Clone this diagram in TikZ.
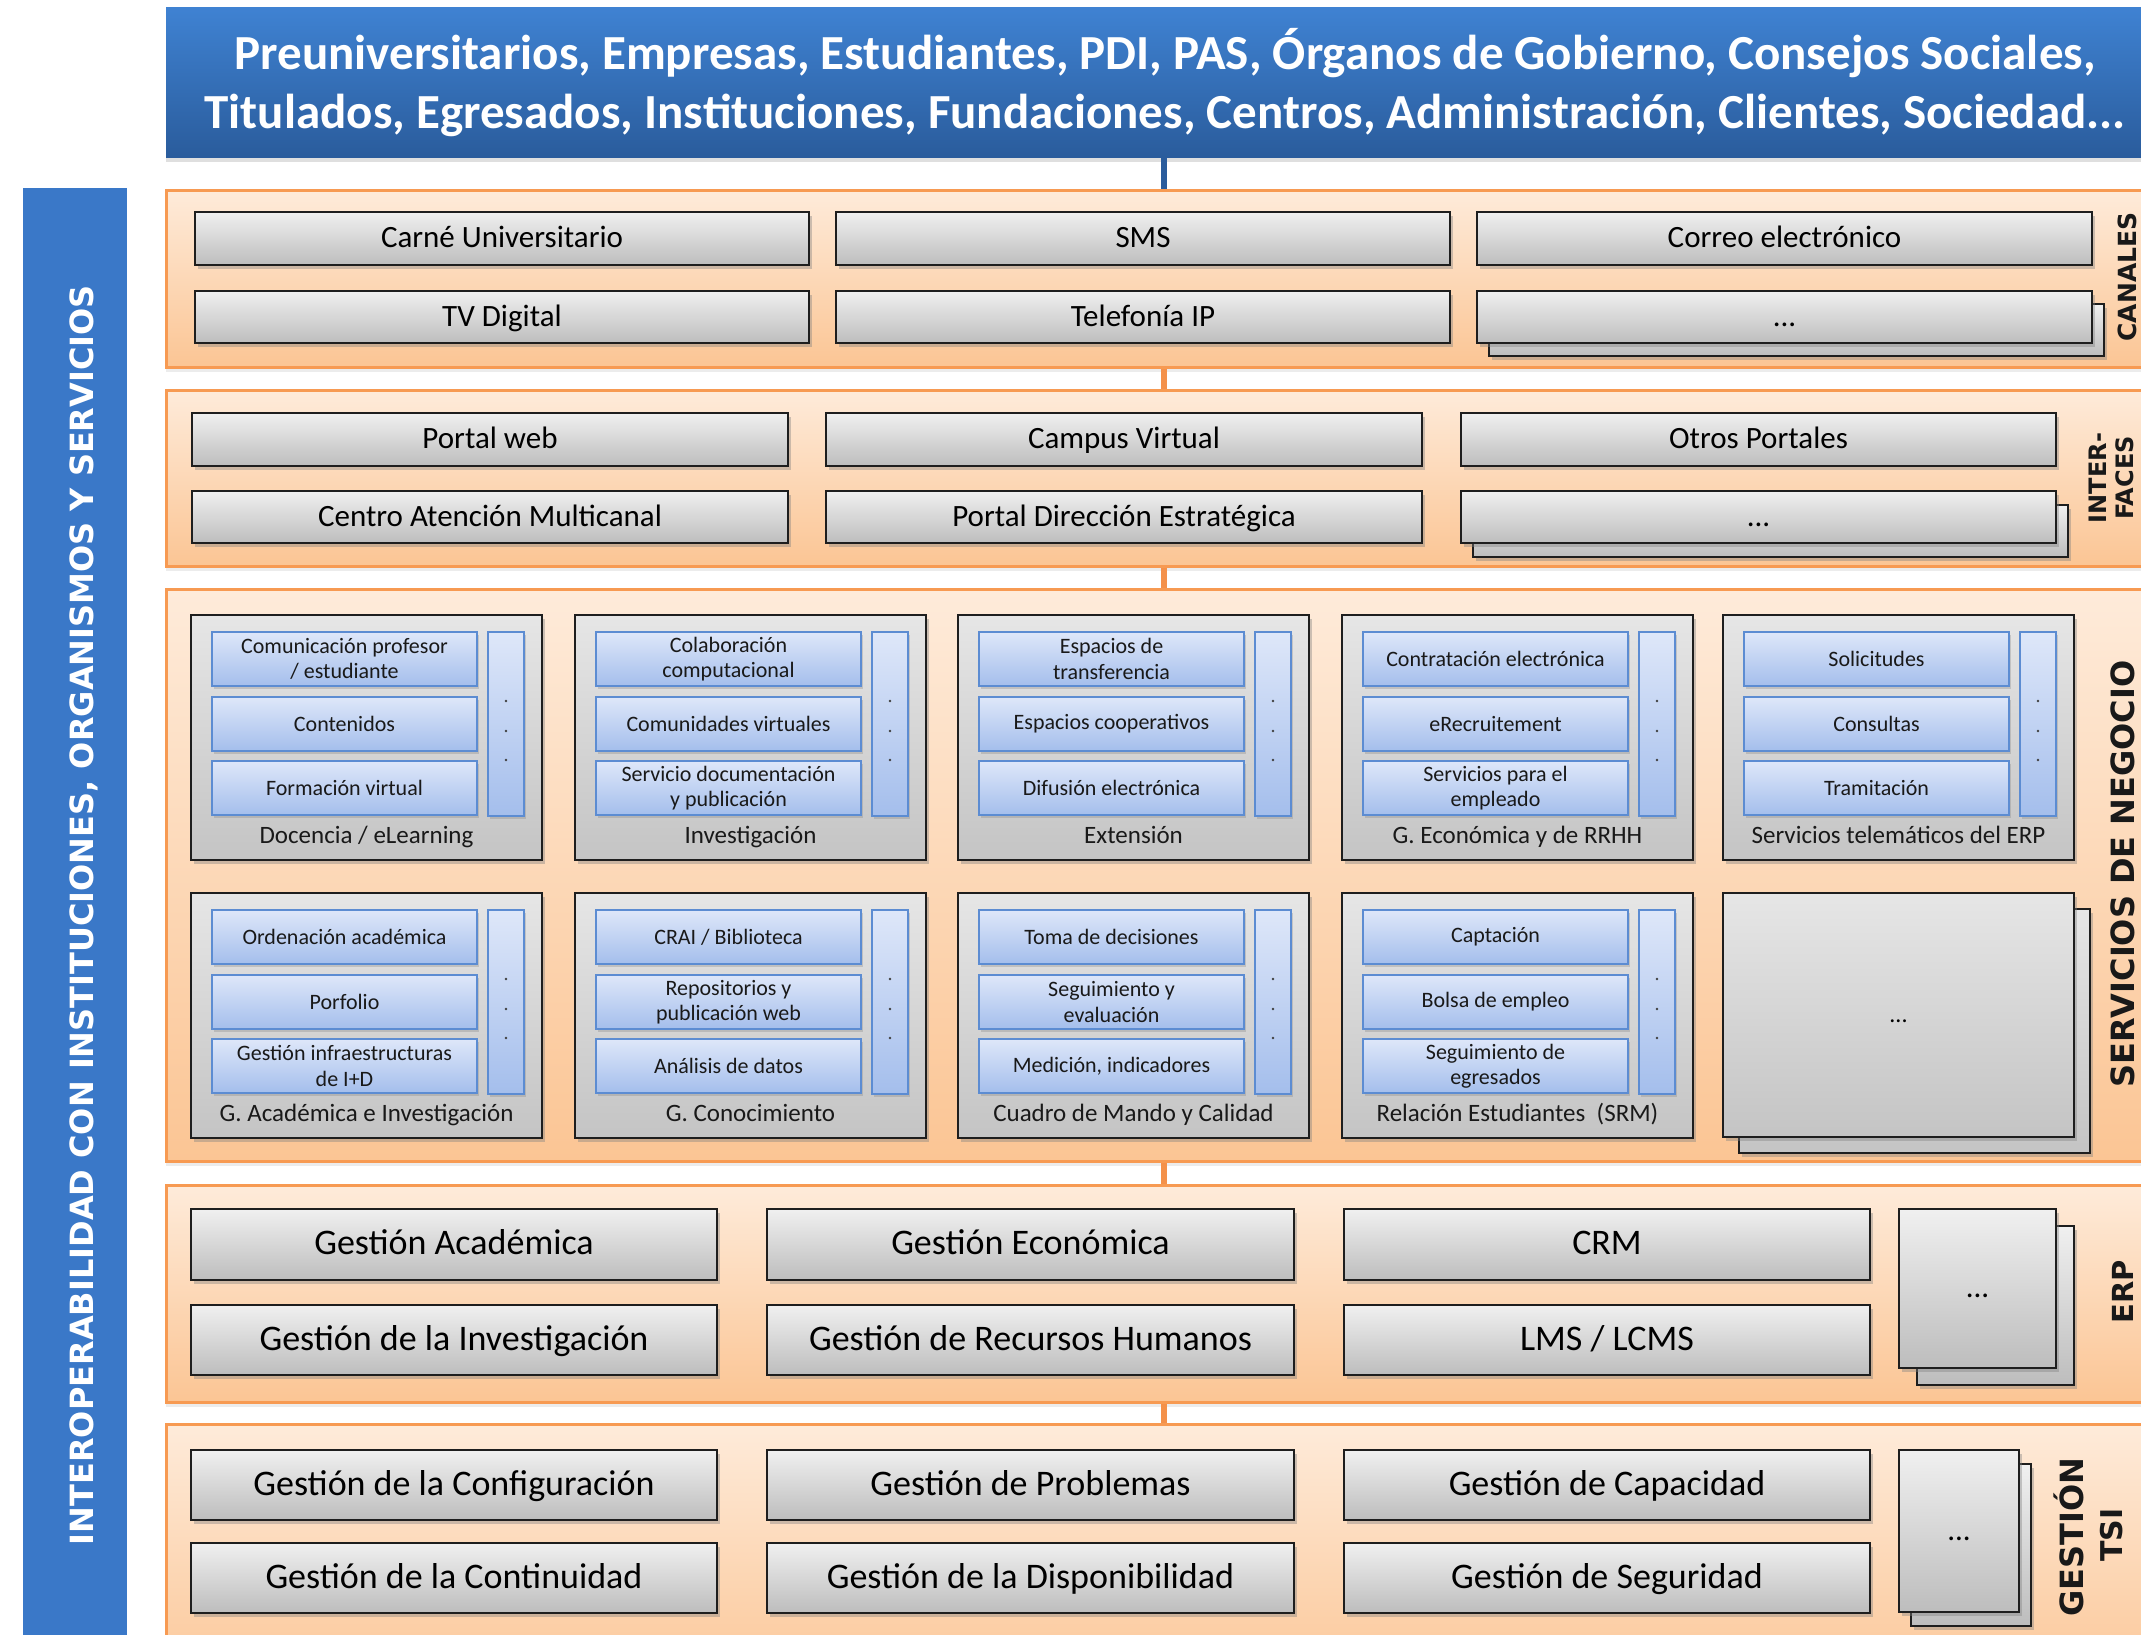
\documentclass[tikz,border=0pt]{standalone}
\usepackage{fontspec}
\setmainfont{Carlito}
\newfontfamily\labfont{DejaVu Sans}
\usetikzlibrary{shadows}
\newcommand\fsz[2]{\fontsize{#1}{#2}\selectfont}
\definecolor{bantop}{HTML}{3F82D2}
\definecolor{banbot}{HTML}{2A5C9C}
\definecolor{barblue}{HTML}{3A78C8}
\definecolor{panelbd}{HTML}{F79A52}
\definecolor{paneltop}{HTML}{FEEBDA}
\definecolor{panelbot}{HTML}{FBC594}
\definecolor{conor}{HTML}{F4914A}
\definecolor{boxbd}{HTML}{1E1E1E}
\definecolor{gtop}{HTML}{F0F0F0}
\definecolor{gbot}{HTML}{BDBDBD}
\definecolor{grtop}{HTML}{E6E6E6}
\definecolor{grbot}{HTML}{C4C4C4}
\definecolor{bltop}{HTML}{DEE7F9}
\definecolor{blbot}{HTML}{A4BEEC}
\definecolor{bluebd}{HTML}{5C8CD2}
% box by corners: style, x1, y1, x2, y2, name, text
\newcommand\bx[7]{\node[#1, minimum width={(#4)-(#2)}, minimum height={(#5)-(#3)}] (#6) at ({((#2)+(#4))/2},{((#3)+(#5))/2}) {#7};}
% service group: name, x, y, label, item1, item2, item3
\newcommand\grp[7]{%
  \bx{grpbox}{#2}{#3}{#2+351}{#3+245}{#1}{}
  \bx{bluebox}{#2+21}{#3+17}{#2+286}{#3+71}{#1a}{#5}
  \bx{bluebox}{#2+21}{#3+82}{#2+286}{#3+136}{#1b}{#6}
  \bx{bluebox}{#2+21}{#3+146}{#2+286}{#3+200}{#1c}{#7}
  \bx{bluebox}{#2+297}{#3+17}{#2+333}{#3+201}{#1d}{}
  \foreach \dy in {86,116,145} {\fill[black!75] (#2+315,#3+\dy) circle (1.4);}
  \node[grplabel] (#1l) at (#2+175.5,#3+221) {#4};
}
\begin{document}
\begin{tikzpicture}[x=1pt,y=-1pt,
  panel/.style={draw=panelbd, line width=3pt, top color=paneltop, bottom color=panelbot,
    drop shadow={shadow xshift=0pt, shadow yshift=-5pt, opacity=.15}},
  banner/.style={top color=bantop, bottom color=banbot, draw=none, text=white,
    font=\bfseries\fsz{49}{59}, align=center,
    drop shadow={shadow xshift=0pt, shadow yshift=-5pt, opacity=.25}},
  leftbar/.style={fill=barblue, draw=none},
  bartext/.style={text=white, font=\labfont\bfseries\fsz{32}{38}, rotate=90, inner sep=0pt,
    text height=23.3pt, text depth=0pt},
  sidelab/.style={text=black!90, rotate=90, inner sep=0pt, text depth=0pt},
  gbox/.style={draw=boxbd, line width=2.5pt, top color=gtop, bottom color=gbot, text=black,
    drop shadow={shadow xshift=3pt, shadow yshift=-4pt, opacity=.4}},
  chan/.style={gbox, font=\fsz{31}{36}, text height=20.5pt, text depth=2.5pt},
  erpb/.style={gbox, font=\fsz{36}{42}, text height=23.8pt, text depth=2.9pt},
  grpbox/.style={draw=boxbd, line width=2.5pt, top color=grtop, bottom color=grbot,
    drop shadow={shadow xshift=3pt, shadow yshift=-4pt, opacity=.4}, font=\fsz{24}{28},
    text height=16pt, text depth=2pt},
  bluebox/.style={draw=bluebd, line width=2pt, top color=bltop, bottom color=blbot,
    font=\fsz{22}{25.5}, align=center, text=black!90, inner sep=1pt,
    drop shadow={shadow xshift=2pt, shadow yshift=-3pt, opacity=.3}},
  grplabel/.style={font=\fsz{25}{29}, text=black!90, inner sep=0pt,
    text height=16.5pt, text depth=2pt},
  oconn/.style={draw=conor, line width=6pt},
  bconn/.style={draw=banbot, line width=6pt}
]
\useasboundingbox (0,0) rectangle (2141,1635);
\clip (0,0) rectangle (2141,1635);
\fill[white] (0,0) rectangle (2141,1635);

% left bar
\bx{leftbar}{23}{188}{127}{1700}{lbar}{}
\node[bartext] (lbtext) at (82,915) {INTEROPERABILIDAD CON INSTITUCIONES, ORGANISMOS Y SERVICIOS};

% panels
\bx{panel}{166}{190}{2250}{367}{pcan}{}
\bx{panel}{166}{390}{2250}{566}{pint}{}
\bx{panel}{166}{589}{2250}{1161}{pser}{}
\bx{panel}{166}{1185}{2250}{1402}{perp}{}
\bx{panel}{166}{1424}{2250}{1700}{ptsi}{}

% banner
\bx{banner}{166}{8}{2164}{157}{top}{Preuniversitarios, Empresas, Estudiantes, PDI, PAS, Órganos de Gobierno, Consejos Sociales,\\Titulados, Egresados, Instituciones, Fundaciones, Centros, Administración, Clientes, Sociedad...}

% connectors
\coordinate (cx) at (1164,0);
\draw[bconn] (top.south -| cx) -- (pcan.north -| cx);
\draw[oconn] (pcan.south -| cx) -- (pint.north -| cx);
\draw[oconn] (pint.south -| cx) -- (pser.north -| cx);
\draw[oconn] (pser.south -| cx) -- (perp.north -| cx);
\draw[oconn] (perp.south -| cx) -- (ptsi.north -| cx);

% side labels
\node[sidelab, font=\labfont\bfseries\fsz{25}{30}, text height=18.2pt] (lcan) at (2127,277) {CANALES};
\node[sidelab, font=\labfont\bfseries\fsz{24}{28}, text height=17.5pt] (lint1) at (2098,478) {INTER-};
\node[sidelab, font=\labfont\bfseries\fsz{24}{28}, text height=17.5pt] (lint2) at (2125,478) {FACES};
\node[sidelab, font=\labfont\bfseries\fsz{32}{38}, text height=23.3pt] (lser) at (2123,874) {SERVICIOS DE NEGOCIO};
\node[sidelab, font=\labfont\bfseries\fsz{29}{34}, text height=21.1pt] (lerp) at (2123,1292) {ERP};
\node[sidelab, font=\labfont\bfseries\fsz{32}{38}, text height=23.3pt] (ltsi1) at (2072,1537) {GESTIÓN};
\node[sidelab, font=\labfont\bfseries\fsz{30}{34}, text height=21.9pt] (ltsi2) at (2112,1535) {TSI};

% CANALES
\bx{chan}{195}{212}{809}{265}{carne}{Carné Universitario}
\bx{chan}{836}{212}{1450}{265}{sms}{SMS}
\bx{chan}{1477}{212}{2092}{265}{correo}{Correo electrónico}
\bx{chan}{195}{291}{809}{343}{tv}{TV Digital}
\bx{chan}{836}{291}{1450}{343}{telip}{Telefonía IP}
\bx{chan}{1489}{304}{2104}{356}{canmoreb}{}
\bx{chan}{1477}{291}{2092}{343}{canmore}{...}

% INTERFACES
\bx{chan}{192}{413}{788}{466}{portal}{Portal web}
\bx{chan}{826}{413}{1422}{466}{campus}{Campus Virtual}
\bx{chan}{1461}{413}{2056}{466}{otros}{Otros Portales}
\bx{chan}{192}{491}{788}{543}{centro}{Centro Atención Multicanal}
\bx{chan}{826}{491}{1422}{543}{pde}{Portal Dirección Estratégica}
\bx{chan}{1473}{505}{2068}{557}{intmoreb}{}
\bx{chan}{1461}{491}{2056}{543}{intmore}{...}

% SERVICIOS DE NEGOCIO
\grp{ga}{191}{615}{Docencia / eLearning}{Comunicación profesor\\/ estudiante}{Contenidos}{Formación virtual}
\grp{gb}{575}{615}{Investigación}{Colaboración\\computacional}{Comunidades virtuales}{Servicio documentación\\y publicación}
\grp{gc}{958}{615}{Extensión}{Espacios de\\transferencia}{Espacios cooperativos}{Difusión electrónica}
\grp{gd}{1342}{615}{G. Económica y de RRHH}{Contratación electrónica}{eRecruitement}{Servicios para el\\empleado}
\grp{ge}{1723}{615}{Servicios telemáticos del ERP}{Solicitudes}{Consultas}{Tramitación}
\grp{gf}{191}{893}{G. Académica e Investigación}{Ordenación académica}{Porfolio}{Gestión infraestructuras\\de I+D}
\grp{gg}{575}{893}{G. Conocimiento}{CRAI / Biblioteca}{Repositorios y\\publicación web}{Análisis de datos}
\grp{gh}{958}{893}{Cuadro de Mando y Calidad}{Toma de decisiones}{Seguimiento y\\evaluación}{Medición, indicadores}
\grp{gi}{1342}{893}{Relación Estudiantes~ (SRM)}{Captación}{Bolsa de empleo}{Seguimiento de\\egresados}
\bx{grpbox}{1739}{909}{2090}{1153}{sermoreb}{}
\bx{grpbox}{1723}{893}{2074}{1137}{sermore}{...}

% ERP
\bx{erpb}{191}{1209}{717}{1280}{gacad}{Gestión Académica}
\bx{erpb}{767}{1209}{1294}{1280}{gecon}{Gestión Económica}
\bx{erpb}{1344}{1209}{1870}{1280}{crm}{CRM}
\bx{erpb}{191}{1305}{717}{1375}{ginv}{Gestión de la Investigación}
\bx{erpb}{767}{1305}{1294}{1375}{grrhh}{Gestión de Recursos Humanos}
\bx{erpb}{1344}{1305}{1870}{1375}{lms}{LMS / LCMS}
\bx{chan}{1917}{1226}{2074}{1385}{erpmoreb}{}
\bx{chan}{1899}{1209}{2056}{1368}{erpmore}{...}

% GESTION TSI
\bx{erpb}{191}{1450}{717}{1520}{gconf}{Gestión de la Configuración}
\bx{erpb}{767}{1450}{1294}{1520}{gprob}{Gestión de Problemas}
\bx{erpb}{1344}{1450}{1870}{1520}{gcap}{Gestión de Capacidad}
\bx{erpb}{191}{1543}{717}{1613}{gcont}{Gestión de la Continuidad}
\bx{erpb}{767}{1543}{1294}{1613}{gdisp}{Gestión de la Disponibilidad}
\bx{erpb}{1344}{1543}{1870}{1613}{gseg}{Gestión de Seguridad}
\bx{chan}{1911}{1464}{2031}{1626}{tsimoreb}{}
\bx{chan}{1899}{1450}{2019}{1612}{tsimore}{...}
\end{tikzpicture}
\end{document}
